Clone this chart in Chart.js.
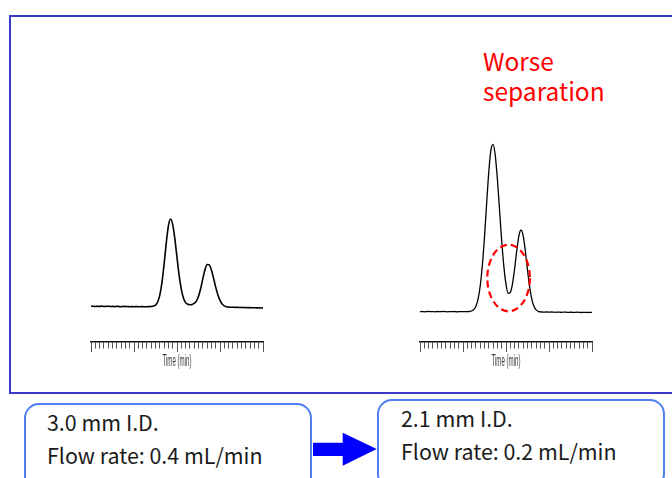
<!DOCTYPE html>
<html>
<head>
<meta charset="utf-8">
<script src="https://cdn.jsdelivr.net/npm/chart.js@4.4.1/dist/chart.umd.min.js"></script>
<style>
  html, body { margin: 0; padding: 0; background: #ffffff; }
  body { width: 672px; height: 478px; position: relative; overflow: hidden; font-family: "Noto Sans CJK JP", "Noto Sans", sans-serif; }
  #frame { position: absolute; left: 9px; top: 15px; width: 720px; height: 379px; box-sizing: border-box; border: 2px solid #3a3ac8; }
  .chartbox { position: absolute; width: 192px; height: 260px; top: 122px; }
  #c1box { left: 81px; }
  #c2box { left: 410px; }
  #note { position: absolute; left: 483px; top: 46px; color: #ff0000; font-size: 24.5px; line-height: 30px; }
  .cond { position: absolute; width: 288px; height: 90px; box-sizing: border-box; border: 2px solid #4f7ef4; border-radius: 15px; background: #fff; }
  #cond1 { left: 24px; top: 403px; }
  #cond2 { left: 377px; top: 399px; }
  .condtext { position: absolute; font-size: 21.4px; line-height: 33px; color: #1a1a1a; white-space: nowrap; }
  #t1 { left: 47px; top: 405px; }
  #t2 { left: 401px; top: 401px; }
  #arrow { position: absolute; left: 0; top: 0; }
</style>
</head>
<body>
<div id="frame"></div>
<div class="chartbox" id="c1box"><canvas id="chart1"></canvas></div>
<div class="chartbox" id="c2box"><canvas id="chart2"></canvas></div>
<div id="note">Worse<br>separation</div>
<div class="cond" id="cond1"></div>
<div class="cond" id="cond2"></div>
<div class="condtext" id="t1">3.0 mm I.D.<br>Flow rate: 0.4 mL/min</div>
<div class="condtext" id="t2">2.1 mm I.D.<br>Flow rate: 0.2 mL/min</div>
<svg id="arrow" width="672" height="478">
  <polygon points="313,442.7 342.7,442.7 342.7,432.7 376.7,449 342.7,465.7 342.7,456 313,456" fill="#0000ff"/>
</svg>
<script>
// ---- data (time axis in minor-tick units, signal in detector units) ----
const timeMin = [0,0.5,1,1.5,2,2.5,3,3.5,4,4.5,5,5.5,6,6.5,7,7.5,8,8.5,9,9.5,
  10,10.5,11,11.5,12,12.5,13,13.5,14,14.5,15,15.5,16,16.5,17,17.5,18,18.5,19,19.5,
  20,20.5,21,21.5,22,22.5,23,23.5,24,24.5,25,25.5,26,26.5,27,27.5,28,28.5,29,29.5,
  30,30.5,31,31.5,32,32.5,33,33.5,34,34.5,35,35.5,36,36.5,37,37.5,38,38.5,39,39.5,40];

// 3.0 mm I.D., 0.4 mL/min
const signal30mm = [0.6,0.8,0.5,0.7,0.6,0.9,0.5,0.6,0.8,0.5,
  0.6,0.4,0.7,0.5,0.3,0.6,0.4,0.5,0.2,0.4,
  0.3,0.5,0.2,0.3,0.4,0.2,0.3,0.4,0.5,0.9,
  1.9,5.0,11.9,24.5,42.8,63.9,81.2,88.0,82.6,68.2,
  49.6,31.7,17.9,9.0,4.4,2.8,2.3,2.6,3.6,5.9,
  10.8,18.5,28.1,37.2,42.5,42.1,36.9,28.8,19.9,12.2,
  6.6,3.1,1.2,0.3,-0.1,-0.3,-0.2,-0.4,-0.3,-0.5,
  -0.4,-0.6,-0.5,-0.7,-0.6,-0.8,-0.7,-0.9,-0.8,-1.0,-0.9];

// 2.1 mm I.D., 0.2 mL/min
const signal21mm = [0.3,0.5,0.2,0.4,0.6,0.3,0.4,0.2,0.5,0.3,
  0.4,0.6,0.3,0.2,0.4,0.3,0.5,0.2,0.3,0.4,
  0.3,0.3,0.4,0.5,1.0,2.4,5.8,12.9,25.9,46.7,
  75.3,108.7,140.3,162.1,167.7,156.6,132.7,101.9,71.2,45.6,
  27.9,18.6,19.6,27.8,43.1,61.4,76.2,82.0,76.1,61.0,
  42.1,25.1,12.9,5.7,2.2,0.7,0.1,0.0,-0.1,0.1,
  -0.2,0.0,-0.1,-0.3,-0.1,-0.2,-0.3,-0.1,-0.2,-0.4,
  -0.2,-0.3,-0.4,-0.2,-0.3,-0.5,-0.3,-0.4,-0.5,-0.3,-0.4];

const axisTitle = "Time (min)";
// dashed ellipse marking the poorly resolved valley (data units of chart 2)
const valleyMark = { x: 20.6, y: 34, rx: 4.95, ry: 33.3 };

// ---- helpers ----
const axisTitlePlugin = {
  id: 'axisTitle',
  afterDraw(chart) {
    const xs = chart.scales.x;
    const ctx = chart.ctx;
    ctx.save();
    ctx.font = '16px "Liberation Sans Narrow", "Liberation Sans", sans-serif';
    const w = ctx.measureText(axisTitle).width;
    const sx = 29 / w;
    ctx.translate((xs.left + xs.right) / 2, chart.chartArea.bottom + 19.5);
    ctx.scale(sx, 1);
    ctx.fillStyle = '#3a3a3a';
    ctx.textAlign = 'center';
    ctx.textBaseline = 'middle';
    ctx.fillText(axisTitle, 0, 0);
    ctx.restore();
  }
};

const ellipsePlugin = {
  id: 'valleyEllipse',
  afterDatasetsDraw(chart, args, opts) {
    if (!opts || !opts.mark) return;
    const m = opts.mark;
    const xs = chart.scales.x, ys = chart.scales.y;
    const cx = xs.getPixelForValue(m.x), cy = ys.getPixelForValue(m.y);
    const rx = Math.abs(xs.getPixelForValue(m.x + m.rx) - cx);
    const ry = Math.abs(ys.getPixelForValue(m.y + m.ry) - cy);
    const ctx = chart.ctx;
    ctx.save();
    ctx.beginPath();
    ctx.ellipse(cx, cy, rx, ry, 0, 0, Math.PI * 2);
    ctx.setLineDash([7, 4]);
    ctx.lineWidth = 2.2;
    ctx.strokeStyle = '#ff0000';
    ctx.stroke();
    ctx.restore();
  }
};

function makeChart(id, signal, yMin, yMax, lw, mark) {
  const pts = timeMin.map((t, i) => ({ x: t, y: signal[i] }));
  return new Chart(document.getElementById(id), {
    type: 'line',
    data: { datasets: [{ data: pts, borderColor: '#000000', borderWidth: lw, pointRadius: 0, cubicInterpolationMode: 'monotone', fill: false }] },
    options: {
      responsive: true,
      maintainAspectRatio: false,
      animation: false,
      devicePixelRatio: window.devicePixelRatio || 1,
      layout: { padding: { left: 10, right: 10, top: 0, bottom: 30 } },
      plugins: { legend: { display: false }, tooltip: { enabled: false }, valleyEllipse: { mark: mark } },
      scales: {
        x: {
          type: 'linear', min: 0, max: 40,
          ticks: { display: false, stepSize: 1 },
          grid: {
            drawOnChartArea: false, drawTicks: true, tickLength: 10,
            tickColor: '#555555', tickWidth: 1,
            tickBorderDash: (ctx) => (ctx.tick && ctx.tick.value % 10 === 0) ? [] : [6, 30]
          },
          border: { display: true, color: '#111111', width: 1.5 }
        },
        y: { display: false, min: yMin, max: yMax }
      }
    },
    plugins: [axisTitlePlugin, ellipsePlugin]
  });
}

makeChart('chart1', signal30mm, -35, 185, 1.6, null);
makeChart('chart2', signal21mm, -30, 190, 1.3, valleyMark);
</script>
</body>
</html>
